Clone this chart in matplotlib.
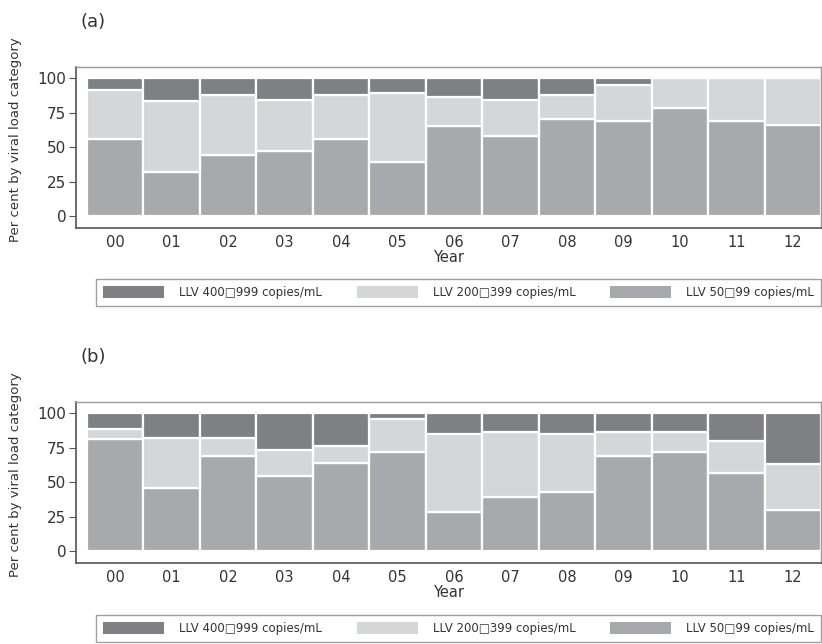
"""Stacked percentage bars of low-level viremia categories by year, panels (a) and (b)."""
import numpy as np
import matplotlib
matplotlib.use("Agg")
import matplotlib.pyplot as plt
from matplotlib.patches import Patch

YEARS = ["00", "01", "02", "03", "04", "05", "06", "07", "08", "09", "10", "11", "12"]
LABELS = ["LLV 400\u25a1999 copies/mL", "LLV 200\u25a1399 copies/mL", "LLV 50\u25a199 copies/mL"]

# panel (a): per cent in each category
a_50 = [56, 32, 44, 47, 56, 39, 65, 58, 70, 69, 78, 69, 66]
a_200 = [35.5, 51, 44, 37, 32, 50, 21, 26, 18, 26, 22, 31, 34]
a_400 = [8.5, 17, 12, 16, 12, 11, 14, 16, 12, 5, 0, 0, 0]

# panel (b)
b_50 = [81, 46, 68.5, 54.5, 64, 72, 28, 39, 42.5, 68.5, 71.5, 56.5, 30]
b_200 = [7.5, 36, 13.5, 19, 12, 23.5, 56.5, 47.5, 42, 18, 15, 23.5, 33]
b_400 = [11.5, 18, 18, 26.5, 24, 4.5, 15.5, 13.5, 15.5, 13.5, 13.5, 20, 37]

C_DARK, C_LIGHT, C_MID = "#7f8083", "#d5d6d8", "#a7a9ac"
W, H = 822, 644

fig = plt.figure(figsize=(W / 100, H / 100), dpi=100)
plt.rcParams["font.family"] = ["DejaVu Sans"]


def panel(top_px, bot_px, p50, p200, p400, tag, leg_top, leg_bot):
    ax = fig.add_axes([76 / W, 1 - bot_px / H, 745 / W, (bot_px - top_px) / H])
    x = np.arange(len(YEARS))
    p50 = np.array(p50); p200 = np.array(p200); p400 = np.array(p400)
    kw = dict(width=1.0, edgecolor="white", linewidth=1.6)
    ax.bar(x, p50, color=C_MID, **kw)
    ax.bar(x, p200, bottom=p50, color=C_LIGHT, **kw)
    ax.bar(x, p400, bottom=p50 + p200, color=C_DARK, **kw)
    ax.set_xlim(-0.69, 12.5)
    ax.set_ylim(-8.7, 108)
    ax.set_yticks([0, 25, 50, 75, 100])
    ax.set_xticks(x)
    ax.set_xticklabels(YEARS)
    ax.tick_params(axis="x", length=0, pad=5, labelsize=10.5, colors="#333333")
    ax.tick_params(axis="y", length=5, width=0.8, color="#555555", pad=2,
                   labelsize=11, labelcolor="#333333")
    for s in ("left", "bottom"):
        ax.spines[s].set_color("#555555"); ax.spines[s].set_linewidth(1.2)
    for s in ("top", "right"):
        ax.spines[s].set_color("#999999"); ax.spines[s].set_linewidth(1.0)
    ax.set_xlabel("Year", fontsize=10.5, color="#333333", labelpad=0)
    ax.set_ylabel("Per cent by viral load category", fontsize=9.5, color="#333333")
    ax.yaxis.set_label_coords(-54 / 745, 0.55)
    fig.text(80 / W, 1 - (top_px - 45) / H, tag, fontsize=13, color="#333333",
             va="center")
    handles = [Patch(facecolor=c, edgecolor="none") for c in (C_DARK, C_LIGHT, C_MID)]
    lg = fig.legend(handles, LABELS, loc="lower left", ncol=3, mode="expand",
                    bbox_to_anchor=(96 / W, 1 - leg_bot / H, 725 / W, (leg_bot - leg_top) / H),
                    fontsize=8.5, handlelength=5.2, handleheight=1.1, handletextpad=1.25,
                    columnspacing=1.9, borderaxespad=0, fancybox=False, frameon=True,
                    borderpad=0.6, labelcolor="#333333")
    lg.get_frame().set_edgecolor("#888888")
    lg.get_frame().set_linewidth(1.0)
    return ax


panel(67, 228, a_50, a_200, a_400, "(a)", 275, 306)
panel(402, 563, b_50, b_200, b_400, "(b)", 611, 642)

fig.savefig("out.png", dpi=100)
